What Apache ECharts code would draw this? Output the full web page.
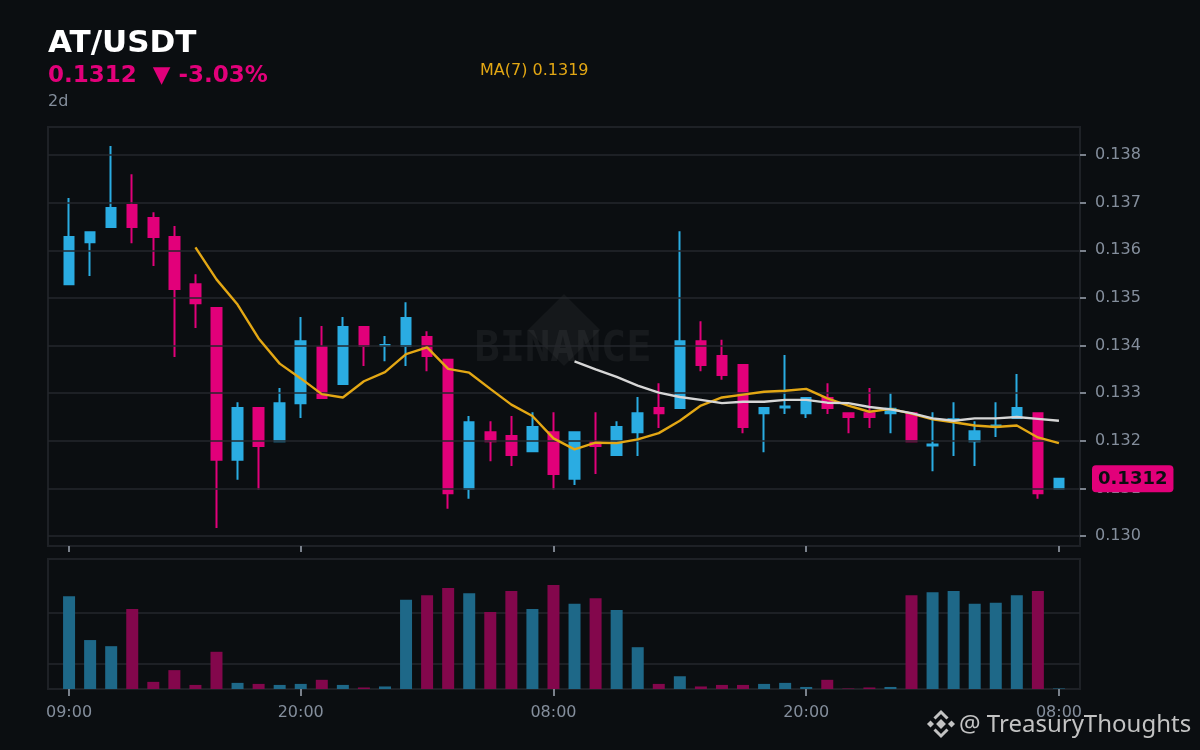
<!DOCTYPE html>
<html>
<head>
<meta charset="utf-8">
<script src="https://cdn.jsdelivr.net/npm/echarts@6/dist/echarts.min.js"></script>
<style>
html,body{margin:0;padding:0;background:#0b0e11;}
#chart{width:1200px;height:750px;}
</style>
</head>
<body>
<div id="chart"></div>
<script>
// hourly candles, 09:00 day 1 .. 08:00 day 3
const categories = ['09:00','10:00','11:00','12:00','13:00','14:00','15:00','16:00','17:00','18:00','19:00','20:00','21:00','22:00','23:00',
  '00:00','01:00','02:00','03:00','04:00','05:00','06:00','07:00','08:00','09:00','10:00','11:00','12:00','13:00','14:00','15:00','16:00','17:00','18:00','19:00','20:00','21:00','22:00','23:00',
  '00:00','01:00','02:00','03:00','04:00','05:00','06:00','07:00','08:00'];
const xTickIdx = [0, 11, 23, 35, 47];

const openV  = [0.13529,0.13617,0.13649,0.13695,0.13668,0.13628,0.13529,0.13479,0.13160,0.13269,0.13199,0.13279,0.13397,0.13319,0.13439,0.13400,0.13399,0.13418,0.13370,0.13099,0.13218,0.13210,0.13178,0.13218,0.13120,0.13197,0.13170,0.13218,0.13269,0.13269,0.13409,0.13378,0.13359,0.13258,0.13270,0.13258,0.13290,0.13258,0.13258,0.13258,0.13258,0.13190,0.13243,0.13199,0.13230,0.13248,0.13258,0.13099];
const closeV = [0.13628,0.13638,0.13689,0.13649,0.13628,0.13519,0.13489,0.13160,0.13269,0.13189,0.13279,0.13409,0.13290,0.13439,0.13399,0.13401,0.13458,0.13378,0.13090,0.13239,0.13199,0.13170,0.13229,0.13130,0.13218,0.13189,0.13229,0.13258,0.13258,0.13409,0.13359,0.13338,0.13229,0.13269,0.13272,0.13290,0.13269,0.13250,0.13250,0.13267,0.13199,0.13192,0.13245,0.13220,0.13232,0.13269,0.13090,0.13120];
const lowV   = [0.13527,0.13546,0.13647,0.13615,0.13567,0.13376,0.13437,0.13017,0.13118,0.13097,0.13197,0.13248,0.13288,0.13317,0.13357,0.13367,0.13357,0.13346,0.13057,0.13078,0.13157,0.13147,0.13176,0.13097,0.13107,0.13130,0.13168,0.13168,0.13227,0.13267,0.13346,0.13328,0.13216,0.13176,0.13256,0.13248,0.13256,0.13216,0.13227,0.13216,0.13197,0.13136,0.13168,0.13147,0.13208,0.13248,0.13078,0.13097];
const highV  = [0.13710,0.13640,0.13819,0.13760,0.13680,0.13651,0.13550,0.13481,0.13281,0.13271,0.13311,0.13460,0.13441,0.13460,0.13441,0.13420,0.13491,0.13430,0.13372,0.13252,0.13241,0.13252,0.13260,0.13260,0.13220,0.13260,0.13241,0.13292,0.13321,0.13640,0.13451,0.13412,0.13361,0.13271,0.13380,0.13292,0.13321,0.13260,0.13311,0.13300,0.13260,0.13260,0.13281,0.13241,0.13281,0.13340,0.13260,0.13122];

const ma7  = ['-','-','-','-','-','-',0.13606,0.13539,0.13486,0.13415,0.13362,0.13331,0.13298,0.13291,0.13325,0.13344,0.13382,0.13396,0.13351,0.13343,0.13309,0.13276,0.13252,0.13205,0.13182,0.13196,0.13195,0.13203,0.13216,0.13242,0.13274,0.13291,0.13297,0.13303,0.13305,0.13309,0.13289,0.13274,0.13261,0.13267,0.13257,0.13245,0.13239,0.13232,0.13229,0.13232,0.13207,0.13195];
const ma25 = ['-','-','-','-','-','-','-','-','-','-','-','-','-','-','-','-','-','-','-','-','-','-','-','-',0.13367,0.13350,0.13334,0.13316,0.13301,0.13292,0.13286,0.13279,0.13282,0.13282,0.13286,0.13286,0.13280,0.13279,0.13271,0.13266,0.13258,0.13247,0.13242,0.13247,0.13247,0.13250,0.13246,0.13242];

const volume = [1.82,0.96,0.84,1.57,0.14,0.37,0.08,0.73,0.12,0.10,0.08,0.10,0.18,0.08,0.03,0.05,1.75,1.84,1.98,1.88,1.51,1.92,1.57,2.04,1.67,1.78,1.55,0.82,0.10,0.25,0.05,0.08,0.08,0.10,0.12,0.04,0.18,0.01,0.03,0.04,1.84,1.90,1.92,1.67,1.69,1.84,1.92,0.01];

const priceTicks = [0.130,0.131,0.132,0.133,0.134,0.135,0.136,0.137,0.138];
const volTicks = [0.5, 1.5];

const UP = '#2aace2', DOWN = '#e2007a';
const UP_V = '#1e6888', DOWN_V = '#83074c';
const GRID_LINE = '#24272c', LABEL = '#848e9c', TICK = '#7a818b', BORDER = '#1e2126';
const FONT = 'DejaVu Sans';

// pad one empty slot each side (axis has a full band margin at both ends)
const axisCats = [''].concat(categories, ['']);
const tickSet = new Set(xTickIdx.map(i => i + 1));
const candleData = [['-','-','-','-']].concat(openV.map((o, i) => [o, closeV[i], lowV[i], highV[i]]), [['-','-','-','-']]);
const volData = ['-'].concat(volume.map((v, i) => ({ value: v, itemStyle: { color: closeV[i] >= openV[i] ? UP_V : DOWN_V } })), ['-']);
const pad = a => ['-'].concat(a, ['-']);
const lastClose = closeV[closeV.length - 1];

const chart = echarts.init(document.getElementById('chart'), null, { renderer: 'canvas' });

const iconColor = 'rgba(215,215,215,0.9)';
const option = {
  backgroundColor: '#0b0e11',
  animation: false,
  textStyle: { fontFamily: FONT },
  grid: [
    { left: 48, right: 120, top: 127, height: 419, show: true, borderColor: BORDER, borderWidth: 2, backgroundColor: 'transparent' },
    { left: 48, right: 120, top: 559, height: 130, show: true, borderColor: BORDER, borderWidth: 2, backgroundColor: 'transparent' }
  ],
  xAxis: [
    { type: 'category', gridIndex: 0, data: axisCats, boundaryGap: false,
      axisLine: { show: false },
      axisTick: { show: true, length: 6, interval: (i) => tickSet.has(i), lineStyle: { color: TICK, width: 2 } },
      axisLabel: { show: false }, splitLine: { show: false } },
    { type: 'category', gridIndex: 1, data: axisCats, boundaryGap: false,
      axisLine: { show: false },
      axisTick: { show: true, length: 7, interval: (i) => tickSet.has(i), lineStyle: { color: TICK, width: 2 } },
      axisLabel: { show: true, interval: (i) => tickSet.has(i), color: LABEL, fontSize: 16, fontFamily: FONT, margin: 16 },
      splitLine: { show: false } }
  ],
  yAxis: [
    { type: 'value', gridIndex: 0, position: 'right', min: 0.12979, max: 0.13859, scale: true, z: 3,
      axisLine: { show: false },
      axisTick: { show: true, length: 6, customValues: priceTicks, lineStyle: { color: TICK, width: 2 } },
      axisLabel: { show: true, customValues: priceTicks, color: LABEL, fontSize: 16, fontFamily: FONT, margin: 15,
        padding: [3, 0, 0, 0], formatter: v => v.toFixed(3) },
      splitLine: { show: true, lineStyle: { color: GRID_LINE, width: 1.5 } } },
    { type: 'value', gridIndex: 1, position: 'right', min: 0, max: 2.55,
      axisLine: { show: false },
      axisTick: { show: false, customValues: volTicks },
      axisLabel: { show: false, customValues: volTicks },
      splitLine: { show: true, lineStyle: { color: GRID_LINE, width: 1.5 } } }
  ],
  series: [
    { type: 'candlestick', name: 'AT/USDT', xAxisIndex: 0, yAxisIndex: 0, data: candleData,
      barWidth: 10,
      itemStyle: { color: UP, color0: DOWN, borderColor: UP, borderColor0: DOWN, borderWidth: 2 },
      markLine: {
        silent: true, symbol: ['none', 'none'], z: 10, precision: 5,
        lineStyle: { color: 'rgba(0,0,0,0)', width: 0, type: 'solid' },
        label: { show: true, position: 'end', distance: 12, formatter: p => Number(p.value).toFixed(4),
          backgroundColor: DOWN, color: '#0b0e11', fontWeight: 'bold', fontSize: 18, fontFamily: FONT,
          padding: [5, 6, 4, 6], borderRadius: 4, opacity: 1 },
        data: [{ yAxis: lastClose }]
      } },
    { type: 'line', name: 'MA(7)', xAxisIndex: 0, yAxisIndex: 0, data: pad(ma7), showSymbol: false, symbol: 'none',
      lineStyle: { color: '#e3a714', width: 2.4 }, z: 4 },
    { type: 'line', name: 'MA(25)', xAxisIndex: 0, yAxisIndex: 0, data: pad(ma25), showSymbol: false, symbol: 'none',
      lineStyle: { color: '#d6d6d6', width: 2.4 }, z: 4 },
    { type: 'bar', name: 'Volume', xAxisIndex: 1, yAxisIndex: 1, data: volData, barWidth: 12 }
  ],
  graphic: [
    // background watermark
    { type: 'rect', x: 564, y: 330, rotation: Math.PI / 4, z: 0, silent: true,
      shape: { x: -25.5, y: -25.5, width: 51, height: 51 }, style: { fill: 'rgba(255,255,255,0.045)' } },
    { type: 'text', x: 563, y: 350, z: 1, silent: true,
      style: { text: 'BINANCE', fill: 'rgba(255,255,255,0.05)', fontSize: 42, fontWeight: 'bold', fontFamily: 'DejaVu Sans Mono',
        align: 'center', verticalAlign: 'middle', textAlign: 'center', textVerticalAlign: 'middle' } },
    // header
    { type: 'text', x: 48, y: 44, z: 50,
      style: { text: 'AT/USDT', fill: '#ffffff', fontSize: 31, fontWeight: 'bold', fontFamily: FONT,
        align: 'left', verticalAlign: 'middle', textAlign: 'left', textVerticalAlign: 'middle' } },
    { type: 'text', x: 48, y: 76, z: 50,
      style: { text: '0.1312  \u25BC -3.03%', fill: DOWN, fontSize: 23, fontWeight: 'bold', fontFamily: FONT,
        align: 'left', verticalAlign: 'middle', textAlign: 'left', textVerticalAlign: 'middle' } },
    { type: 'text', x: 48, y: 102, z: 50,
      style: { text: '2d', fill: LABEL, fontSize: 16, fontFamily: FONT,
        align: 'left', verticalAlign: 'middle', textAlign: 'left', textVerticalAlign: 'middle' } },
    { type: 'text', x: 480, y: 71, z: 50,
      style: { text: 'MA(7) 0.1319', fill: '#e3a714', fontSize: 16, fontFamily: FONT,
        align: 'left', verticalAlign: 'middle', textAlign: 'left', textVerticalAlign: 'middle' } },
    // bottom-right credit
    { type: 'rect', x: 941, y: 724, rotation: Math.PI / 4, z: 100,
      shape: { x: -3.5, y: -3.5, width: 7, height: 7 }, style: { fill: iconColor } },
    { type: 'rect', x: 930.5, y: 724, rotation: Math.PI / 4, z: 100,
      shape: { x: -2.5, y: -2.5, width: 5, height: 5 }, style: { fill: iconColor } },
    { type: 'rect', x: 951.5, y: 724, rotation: Math.PI / 4, z: 100,
      shape: { x: -2.5, y: -2.5, width: 5, height: 5 }, style: { fill: iconColor } },
    { type: 'polyline', z: 100, shape: { points: [[934.5, 718.5], [941, 712], [947.5, 718.5]] },
      style: { stroke: iconColor, lineWidth: 3, fill: null } },
    { type: 'polyline', z: 100, shape: { points: [[934.5, 729.5], [941, 736], [947.5, 729.5]] },
      style: { stroke: iconColor, lineWidth: 3, fill: null } },
    { type: 'text', x: 959, y: 725, z: 100,
      style: { text: '@ TreasuryThoughts', fill: iconColor, fontSize: 24, fontFamily: 'Noto Sans',
        align: 'left', verticalAlign: 'middle', textAlign: 'left', textVerticalAlign: 'middle' } }
  ]
};
chart.setOption(option);
</script>
</body>
</html>
